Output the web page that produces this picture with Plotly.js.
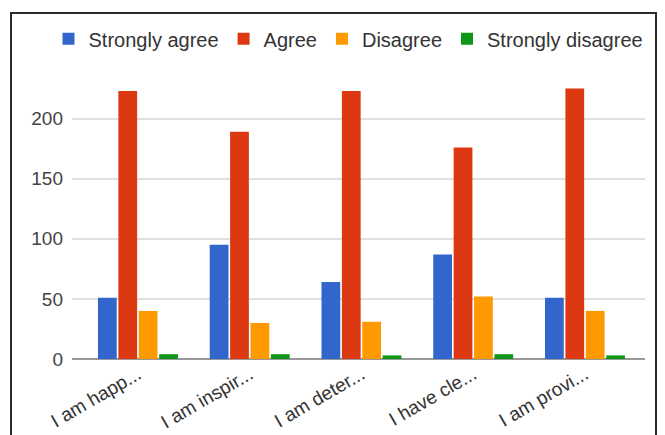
<!DOCTYPE html>
<html>
<head>
<meta charset="utf-8">
<script src="https://cdn.plot.ly/plotly-3.0.1.min.js"></script>
<style>
  html, body { margin: 0; padding: 0; background: #ffffff; overflow: hidden; }
  #wrap { position: relative; width: 665px; height: 435px; }
  #chart { position: absolute; left: 0; top: 0; width: 665px; height: 435px; }
  #frame {
    position: absolute; left: 10px; top: 12px; width: 647px; height: 500px;
    border: 2px solid #2b2b2b; box-sizing: border-box; pointer-events: none;
  }
</style>
</head>
<body>
<div id="wrap">
  <div id="chart"></div>
  <div id="frame"></div>
</div>
<script>
// Survey statements (truncated as shown on the axis)
const statements = ["I am happ...", "I am inspir...", "I am deter...", "I have cle...", "I am provi..."];

// Response counts per statement
const stronglyAgree    = [51, 95, 64, 87, 51];
const agree            = [223, 189, 223, 176, 225];
const disagree         = [40, 30, 31, 52, 40];
const stronglyDisagree = [4, 4, 3, 4, 3];

const seriesNames  = ["Strongly agree", "Agree", "Disagree", "Strongly disagree"];
const seriesValues = [stronglyAgree, agree, disagree, stronglyDisagree];
const seriesColors = ["#3366cc", "#dc3912", "#ff9900", "#109618"];

const yTicks = [0, 50, 100, 150, 200];

const traces = seriesNames.map((name, i) => ({
  type: "bar",
  name: name,
  x: statements,
  y: seriesValues[i],
  marker: { color: seriesColors[i] },
  hoverinfo: "x+y+name"
}));

const layout = {
  width: 665,
  height: 435,
  paper_bgcolor: "#ffffff",
  plot_bgcolor: "#ffffff",
  font: { family: "Liberation Sans, Arial, sans-serif", color: "#444" },
  margin: { l: 72, r: 20, t: 85, b: 76 },
  barmode: "group",
  bargap: 0.27,
  bargroupgap: 0.08,
  showlegend: true,
  // one-row legend above the plot, allowed to extend left of the plot area
  legend: {
    orientation: "h",
    x: -0.041, xanchor: "left",
    y: 1.24, yanchor: "top",
    font: { size: 20, color: "#333" },
    itemclick: false,
    tracegroupgap: 0
  },
  xaxis: {
    type: "category",
    range: [-0.59, 4.537],
    tickangle: -30,
    tickfont: { size: 19, color: "#333" },
    showgrid: false,
    showline: false,
    zeroline: false,
    ticks: "",
    fixedrange: true
  },
  yaxis: {
    range: [0, 228],
    tickvals: yTicks,
    ticktext: yTicks.map(String),
    tickfont: { size: 19, color: "#444" },
    ticklabelstandoff: 8,
    showgrid: true,
    gridcolor: "#e0e0e0",
    gridwidth: 2,
    zeroline: true,
    zerolinecolor: "#999999",
    zerolinewidth: 2,
    showline: false,
    ticks: "",
    fixedrange: true
  }
};

Plotly.newPlot("chart", traces, layout, { displayModeBar: false, staticPlot: true });
</script>
</body>
</html>
